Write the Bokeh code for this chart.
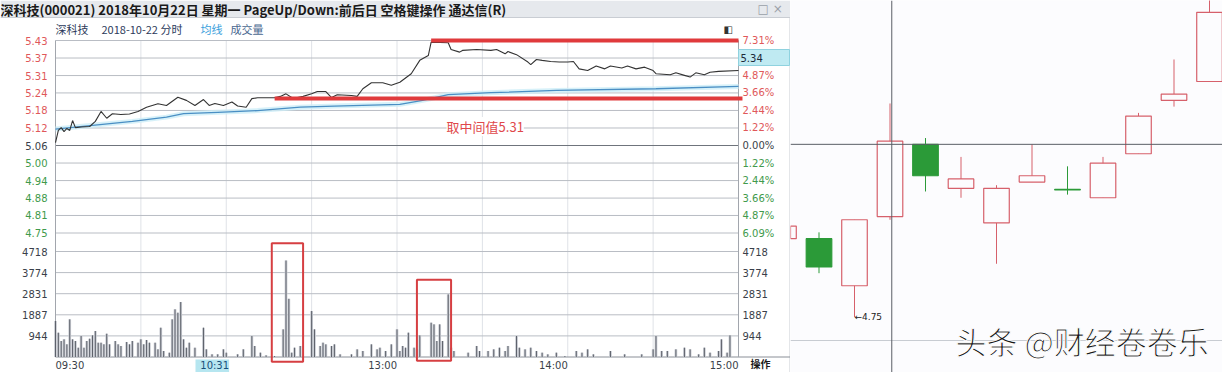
from bokeh.plotting import figure
from bokeh.models import Range1d, ColumnDataSource, Label, Span
from bokeh.layouts import row
from bokeh.embed import file_html
from bokeh.resources import INLINE
from bokeh.core.properties import value

# ------------------------------------------------------------------ data
title_text = "深科技(000021) 2018年10月22日 星期一 PageUp/Down:前后日 空格键操作 通达信(R)"
header_texts = ["深科技", "2018-10-22 分时", "均线", "成交量"]
prev_close = 5.06

# intraday price (minute index from 09:30, 120 = 13:00)
price_t = [0, 1, 2, 3, 4, 5, 6, 7, 9, 12, 14, 16, 18, 20, 23, 26, 29, 32, 36, 39, 43,
           46, 49, 52, 54, 56, 59, 62, 64, 67, 69, 71, 77, 79, 81, 83, 85, 87, 90, 92, 95,
           97, 99, 104, 106, 108, 111, 115, 118, 121, 125, 128, 131, 132, 138, 139, 142, 143, 148, 153, 155,
           158, 159, 162, 166, 167, 169, 171, 174, 177, 180, 182, 184, 187, 190, 193, 195, 199, 201, 204, 207,
           210, 211, 216, 218, 221, 223, 225, 228, 230, 233, 240]
price_v = [5.070, 5.113, 5.123, 5.109, 5.120, 5.113, 5.148, 5.123, 5.125, 5.127, 5.145, 5.180, 5.156, 5.172, 5.169, 5.171, 5.180, 5.195, 5.207, 5.201, 5.230,
           5.219, 5.201, 5.222, 5.201, 5.208, 5.201, 5.213, 5.199, 5.195, 5.225, 5.228, 5.228, 5.233, 5.242, 5.229, 5.229, 5.233, 5.242, 5.250, 5.250,
           5.229, 5.239, 5.236, 5.233, 5.260, 5.281, 5.281, 5.272, 5.283, 5.313, 5.360, 5.377, 5.424, 5.422, 5.398, 5.389, 5.395, 5.398, 5.395, 5.398,
           5.383, 5.391, 5.380, 5.354, 5.345, 5.363, 5.360, 5.356, 5.354, 5.354, 5.356, 5.330, 5.324, 5.340, 5.330, 5.340, 5.333, 5.340, 5.330, 5.336,
           5.324, 5.313, 5.309, 5.316, 5.307, 5.301, 5.316, 5.309, 5.318, 5.321, 5.324]

avg_t = [0, 13, 27, 39, 45, 57, 71, 86, 98, 121, 129, 138, 153, 176, 211, 240]
avg_v = [5.118, 5.131, 5.145, 5.160, 5.172, 5.177, 5.183, 5.195, 5.199, 5.205, 5.219, 5.239, 5.246, 5.254, 5.260, 5.268]

vol_t = [0, 1, 2, 3, 4, 5, 6, 7, 8, 9, 10, 11, 12, 13, 14, 15, 16, 17, 18, 19,
         21, 22, 23, 25, 26, 27, 29, 30, 31, 32, 33, 35, 36, 37, 38, 40, 41, 42, 43, 44,
         45, 46, 47, 49, 52, 53, 55, 57, 59, 60, 64, 66, 69, 70, 72, 74, 77, 80, 81, 82,
         83, 84, 86, 90, 91, 93, 94, 95, 97, 98, 100, 104, 106, 108, 111, 113, 114, 116, 118, 120,
         121, 122, 123, 124, 126, 127, 128, 132, 133, 134, 135, 136, 138, 139, 140, 145, 148, 149, 152, 154,
         156, 158, 159, 162, 163, 165, 167, 169, 171, 173, 176, 179, 183, 185, 187, 189, 195, 200, 206, 210,
         211, 213, 215, 218, 221, 223, 226, 228, 230, 233, 234, 236, 237]
vol_v = [1609, 1088, 715, 790, 566, 1684, 790, 715, 417, 939, 417, 715, 819, 968, 1162, 641, 641, 566, 1043, 566,
         715, 566, 492, 671, 566, 715, 641, 790, 566, 760, 641, 641, 343, 1311, 268, 194, 1684, 2131, 1982, 2458,
         790, 417, 641, 417, 1311, 343, 119, 119, 343, 194, 119, 343, 939, 492, 194, 75, 45, 1237, 4316, 2603,
         194, 417, 492, 2056, 1237, 492, 641, 566, 492, 566, 119, 119, 343, 268, 566, 343, 417, 268, 566, 1237,
         268, 492, 417, 1088, 417, 343, 968, 1535, 1460, 715, 1460, 715, 2801, 417, 268, 194, 492, 268, 268, 343,
         417, 268, 492, 939, 417, 343, 417, 268, 194, 119, 194, 45, 268, 194, 343, 119, 268, 119, 119, 343,
         939, 268, 268, 343, 417, 343, 119, 417, 194, 268, 790, 194, 968]

pct_ticks = [7.31, 6.09, 4.87, 3.66, 2.44, 1.22, 0.0, -1.22, -2.44, -3.66, -4.87, -6.09]
price_labels = ["5.43", "5.37", "5.31", "5.24", "5.18", "5.12", "5.06", "5.00", "4.94", "4.88", "4.81", "4.75"]
pct_labels = ["7.31%", "6.09%", "4.87%", "3.66%", "2.44%", "1.22%", "0.00%", "1.22%", "2.44%", "3.66%", "4.87%", "6.09%"]
vol_ticks = [4718, 3774, 2831, 1887, 944]
vol_labels = ["4718", "3774", "2831", "1887", "944"]
time_grid = [0, 30, 60, 90, 120, 150, 180, 210, 240]
time_label_t = [0, 120, 180, 240]
time_labels = ["09:30", "13:00", "14:00", "15:00"]
cursor_t, cursor_time = 61, "10:31"
cursor_price_label = "5.34"

# annotations drawn on the intraday chart
red_line_t0 = [132, 77]
red_line_t1 = [240, 241.4]
red_line_p = [5.43, 5.226]
note_text, note_t, note_p = "取中间值5.31", 151, 5.127
box_t0 = [76, 127]
box_t1 = [87, 139]
box_top = [5090, 3460]
box_bottom = [-210, -170]

# daily candles (right panel), index 3 = 2018-10-22
c_idx = list(range(13))
c_open = [5.00, 5.00, 4.85, 5.07, 5.30, 5.16, 5.05, 5.18, 5.157, 5.13, 5.27, 5.44, 5.50]
c_close = [5.04, 4.91, 5.06, 5.31, 5.20, 5.19, 5.16, 5.20, 5.155, 5.24, 5.39, 5.46, 5.72]
c_high = [5.04, 5.02, 5.06, 5.43, 5.32, 5.26, 5.17, 5.30, 5.23, 5.26, 5.40, 5.57, 5.78]
c_low = [5.00, 4.89, 4.75, 5.06, 5.15, 5.13, 4.92, 5.18, 5.14, 5.13, 5.27, 5.42, 5.50]
low_note = "←4.75"
cross_x, cross_p = 3.05, 5.30
watermark = "头条 @财经卷卷乐"

# ------------------------------------------------------------------ geometry
CJK_NAME = "Noto Sans CJK SC"
CJK = value(CJK_NAME)
NUM = value("DejaVu Sans")
RED, GREEN, DARK = "#e0585a", "#3f9a4c", "#3a3f4a"

LW, LH = 790, 372
X0, X1 = 55, 738
PT, PB = 40, 232.5
V0, V4 = 356.5, 251
ppm = (X1 - X0) / 240.0
p_hi = prev_close * (1 + pct_ticks[0] / 100)
p_lo = prev_close * (1 + pct_ticks[-1] / 100)
ppp = (PB - PT) / (p_hi - p_lo)
vpp = (V0 - V4) / vol_ticks[0]


def lx(px):
    return (px - X0) / ppm


def ly(px):
    return p_hi - (px - PT) / ppp


def lv(px):
    return (V0 - px) / vpp


p = figure(width=LW, height=LH, title=None, output_backend="svg", toolbar_location=None,
           x_range=Range1d(lx(0), lx(LW)), y_range=Range1d(ly(LH), ly(0)),
           x_axis_location=None, y_axis_location=None, min_border=0,
           background_fill_color="white", border_fill_color="white", outline_line_color=None)
p.extra_y_ranges = {"vol": Range1d(lv(LH), lv(0))}
p.grid.visible = False

# window title bar
p.quad(left=lx(0), right=lx(LW), top=ly(0), bottom=ly(17), fill_color="#e6e9ed", line_color=None)
p.segment(x0=lx(0), x1=lx(LW), y0=ly(17), y1=ly(17), line_color="#c9cdd3", line_width=1)
p.text(x=lx(0), y=ly(8.5), text=[title_text], text_font=CJK, text_font_size=value("13px"),
       text_font_style="bold", text_color="#1a1a1a", text_baseline="middle", text_align="left")
p.text(x=lx(757), y=ly(8), text=["□ ×"], text_font=NUM, text_font_size=value("12px"),
       text_color="#9aa0a8", text_baseline="middle", text_align="left")
p.segment(x0=lx(789.5), x1=lx(789.5), y0=ly(17), y1=ly(LH), line_color="#c9cdd3", line_width=1)

# header line
hdr_x = [55, 101, 200, 230]
hdr_c = ["#2c3a5a", "#2c3a5a", "#3aa0dc", "#4a6890"]
p.text(x=[lx(v) for v in hdr_x], y=ly(28), text=header_texts, text_color=hdr_c, text_font=CJK,
       text_font_size=value("11px"), text_baseline="middle", text_align="left")
p.text(x=lx(723), y=ly(29), text=["◧"], text_font=NUM, text_font_size=value("10px"),
       text_color="#333333", text_baseline="middle")

# grid
price_ticks = [prev_close * (1 + v / 100) for v in pct_ticks]
p.segment(x0=time_grid, x1=time_grid, y0=ly(PT), y1=ly(V0), line_color="#dfe2e7", line_width=1)
p.segment(x0=0, x1=240, y0=price_ticks, y1=price_ticks,
          line_color=["#6f747c" if v == 0 else "#b9bdc4" for v in pct_ticks], line_width=1)
p.segment(x0=0, x1=240, y0=vol_ticks, y1=vol_ticks, line_color="#b9bdc4", line_width=1, y_range_name="vol")
p.segment(x0=0, x1=lx(789.5), y0=0, y1=0, line_color="#8a8f97", line_width=1, y_range_name="vol")
p.segment(x0=[0, 240], x1=[0, 240], y0=ly(PT), y1=ly(V0), line_color="#a2a6ad", line_width=1)

# average + price lines
p.line(avg_t, avg_v, line_color="#cdeef7", line_width=5, line_alpha=0.8)
p.line(avg_t, avg_v, line_color="#4a8fc4", line_width=1.3)
p.line(price_t, price_v, line_color="#333333", line_width=1.1)

# red marker lines
p.segment(x0=red_line_t0, x1=red_line_t1, y0=red_line_p, y1=red_line_p, line_color="#e03a3c", line_width=4)
p.add_layout(Label(x=note_t, y=note_p, text=note_text, text_color="#e0484a", text_font=CJK_NAME,
                   text_font_size="13px", text_align="center", text_baseline="middle",
                   background_fill_color="white"))

# volume bars
p.vbar(x=vol_t, top=vol_v, bottom=0, width=0.95, fill_color="#c9ccd3", line_color=None, y_range_name="vol")
p.segment(x0=vol_t, x1=vol_t, y0=0, y1=vol_v, line_color="#5d616a", line_width=1, y_range_name="vol")
p.quad(left=box_t0, right=box_t1, top=box_top, bottom=box_bottom, fill_color=None,
       line_color="#d63f42", line_width=2, y_range_name="vol")

# axis labels
lab_col = [RED if v > 0 else (DARK if v == 0 else GREEN) for v in pct_ticks]
p.text(x=lx(47), y=price_ticks, text=price_labels, text_color=lab_col, text_font=NUM,
       text_font_size=value("10px"), text_align="right", text_baseline="middle")
p.text(x=lx(742), y=price_ticks, text=pct_labels, text_color=lab_col, text_font=NUM,
       text_font_size=value("10px"), text_align="left", text_baseline="middle")
p.text(x=lx(47), y=vol_ticks, text=vol_labels, text_color=DARK, text_font=NUM,
       text_font_size=value("10px"), text_align="right", text_baseline="middle", y_range_name="vol")
p.text(x=lx(742), y=vol_ticks, text=vol_labels, text_color=DARK, text_font=NUM,
       text_font_size=value("10px"), text_align="left", text_baseline="middle", y_range_name="vol")

# current price box on the right axis
p.quad(left=lx(738), right=lx(789), top=ly(49), bottom=ly(65), fill_color="#bfeaf2", line_color="#8fd2df")
p.text(x=lx(740), y=ly(57), text=[cursor_price_label], text_color="#1c2a3a", text_font=NUM,
       text_font_size=value("10px"), text_align="left", text_baseline="middle")

# time labels
p.text(x=time_label_t, y=ly(365), text=time_labels, text_color=DARK, text_font=NUM,
       text_font_size=value("10px"), text_align=["left", "right", "right", "right"], text_baseline="middle")
p.quad(left=lx(195), right=cursor_t, top=ly(359), bottom=ly(372), fill_color="#b6e6f0", line_color=None)
p.text(x=cursor_t, y=ly(365), text=[cursor_time], text_color="#18507a", text_font=NUM,
       text_font_size=value("10px"), text_align="right", text_baseline="middle")
p.text(x=lx(750), y=ly(363), text=["操作"], text_color="#1a1a1a", text_font=CJK,
       text_font_size=value("10px"), text_font_style="bold", text_align="left", text_baseline="middle")

# ------------------------------------------------------------------ right: daily candles
RW, RH = 432, 372
C0, CS = 783 - 790, 35.5   # px of candle 0 centre (relative), spacing
RY_REF, RPPU = 316.7, 314.3


def rx(px):
    return (px - C0) / CS


def ry(px):
    return 4.75 + (RY_REF - px) / RPPU


q = figure(width=RW, height=RH, title=None, output_backend="svg", toolbar_location=None,
           x_range=Range1d(rx(0), rx(RW)), y_range=Range1d(ry(RH), ry(0)),
           x_axis_location=None, y_axis_location=None, min_border=0,
           background_fill_color="#fcfcfe", border_fill_color="#fcfcfe", outline_line_color=None)
q.grid.visible = False

up = [c >= o and not (i == 8) for i, (o, c) in enumerate(zip(c_open, c_close))]
RC, GC = "#d6606b", "#2b9a38"
src = ColumnDataSource(dict(
    x=c_idx, o=c_open, c=c_close, h=c_high, l=c_low,
    top=[max(o, c) for o, c in zip(c_open, c_close)],
    bot=[min(o, c) for o, c in zip(c_open, c_close)],
    col=[RC if u else GC for u in up],
    fill=["#fcfcfe" if u else GC for u in up],
))
q.add_layout(Span(location=ry(340), dimension="width", line_color="#c8ccd2", line_width=1))
q.segment(x0="x", x1="x", y0="l", y1="h", line_color="col", line_width=1, source=src)
q.vbar(x="x", width=0.72, top="top", bottom="bot", fill_color="fill", line_color="col",
       line_width=1.2, source=src)
q.add_layout(Span(location=cross_x, dimension="height", line_color="#5a5e66", line_width=1))
q.add_layout(Span(location=cross_p, dimension="width", line_color="#5a5e66", line_width=1))
q.text(x=2, y=min(c_low), text=[low_note], text_color="#222222", text_font=NUM,
       text_font_size=value("9px"), text_align="left", text_baseline="middle")
q.add_layout(Label(x=rx(955 - 790), y=ry(340), text=watermark, text_font=CJK_NAME, text_font_size="31px",
                   text_color="#151515", text_outline_color="white", text_baseline="middle",
                   text_align="left"))

layout = row(p, q, spacing=0)
open("out.html", "w").write(file_html(layout, INLINE))
